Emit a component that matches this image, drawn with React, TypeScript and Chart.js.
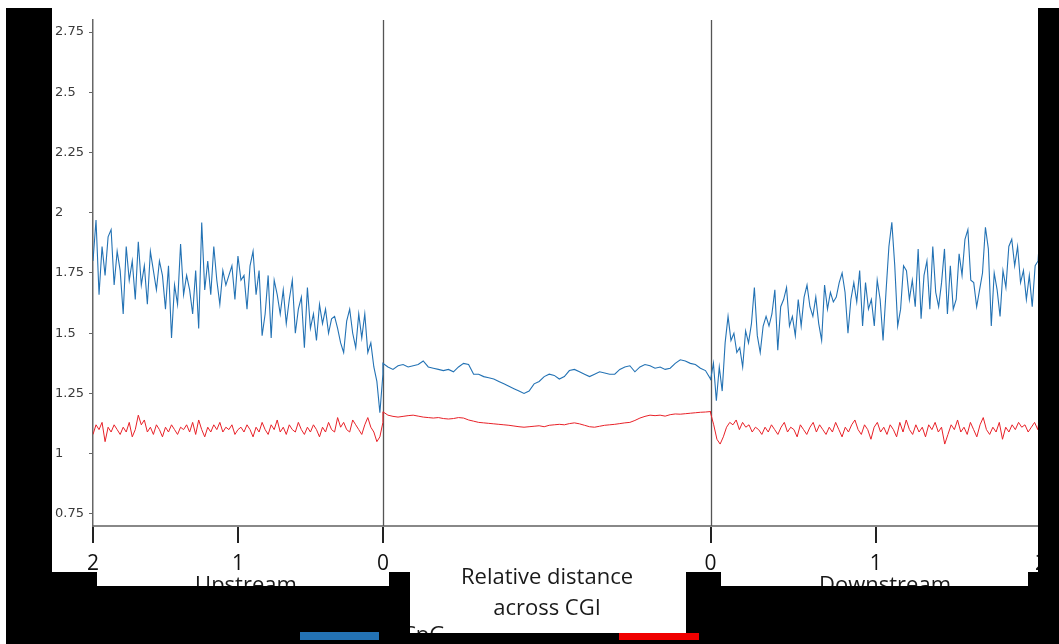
import React, { useEffect, useRef } from "react";
import { Chart, registerables } from "chart.js";

Chart.register(...registerables);

// Axis layout: upstream (2 kb), CGI body (relative), downstream (2 kb) in axis units
const SEGMENTS = [2, 2.26, 2.28];
const X_TICK_POS = [0, 1, 2, 4.26, 5.4, 6.54];
const X_TICK_LABELS = ["2", "1", "0", "0", "1", "2"];
const Y_TICKS = [0.75, 1, 1.25, 1.5, 1.75, 2, 2.25, 2.5, 2.75];
const Y_MIN = 0.7;
const Y_MAX = 2.8;

const SERIES_NAMES = ["CpG", "GpC"];

const CPG_UP = [
  1.8, 1.97, 1.66, 1.86, 1.74, 1.9, 1.93, 1.7, 1.84, 1.76,
  1.58, 1.86, 1.72, 1.8, 1.64, 1.88, 1.7, 1.78, 1.62, 1.84,
  1.76, 1.68, 1.8, 1.74, 1.6, 1.78, 1.48, 1.7, 1.62, 1.87,
  1.66, 1.74, 1.68, 1.58, 1.76, 1.52, 1.96, 1.68, 1.8, 1.66,
  1.86, 1.72, 1.62, 1.76, 1.7, 1.74, 1.78, 1.64, 1.82, 1.72,
  1.74, 1.6, 1.78, 1.84, 1.66, 1.76, 1.49, 1.58, 1.74, 1.48,
  1.72, 1.66, 1.58, 1.68, 1.54, 1.64, 1.72, 1.5, 1.6, 1.65,
  1.44, 1.69, 1.52, 1.58, 1.47, 1.62, 1.54, 1.6, 1.5, 1.56,
  1.57, 1.52, 1.46, 1.42, 1.55, 1.6, 1.5, 1.44, 1.58, 1.48,
  1.58, 1.42, 1.46, 1.36, 1.3, 1.17, 1.33
];
const CPG_BODY = [
  1.375, 1.36, 1.35, 1.365, 1.37, 1.36, 1.365, 1.37, 1.385, 1.36,
  1.355, 1.35, 1.345, 1.35, 1.34, 1.36, 1.375, 1.37, 1.33, 1.33,
  1.32, 1.315, 1.31, 1.3, 1.29, 1.28, 1.27, 1.26, 1.25, 1.26,
  1.29, 1.3, 1.32, 1.33, 1.325, 1.31, 1.32, 1.345, 1.35, 1.34,
  1.33, 1.32, 1.33, 1.34, 1.335, 1.33, 1.33, 1.35, 1.36, 1.365,
  1.34, 1.36, 1.37, 1.365, 1.355, 1.36, 1.35, 1.355, 1.375, 1.39,
  1.385, 1.375, 1.37, 1.355, 1.345, 1.31
];
const CPG_DOWN = [
  1.305, 1.376, 1.22, 1.36, 1.26, 1.46, 1.57, 1.47, 1.5, 1.42,
  1.44, 1.36, 1.51, 1.46, 1.54, 1.69, 1.49, 1.42, 1.53, 1.57,
  1.53, 1.58, 1.68, 1.43, 1.61, 1.64, 1.69, 1.53, 1.57, 1.49,
  1.64, 1.53, 1.65, 1.7, 1.61, 1.57, 1.65, 1.54, 1.47, 1.7,
  1.6, 1.67, 1.63, 1.65, 1.71, 1.75, 1.67, 1.5, 1.64, 1.71,
  1.63, 1.76, 1.53, 1.71, 1.6, 1.64, 1.53, 1.72, 1.64, 1.47,
  1.67, 1.86, 1.96, 1.78, 1.53, 1.6, 1.78, 1.76, 1.64, 1.72,
  1.61, 1.85, 1.56, 1.74, 1.8, 1.6, 1.86, 1.67, 1.61, 1.71,
  1.85, 1.58, 1.78, 1.6, 1.64, 1.83, 1.74, 1.89, 1.93, 1.72,
  1.71, 1.61, 1.68, 1.75, 1.94, 1.85, 1.53, 1.75, 1.68, 1.57,
  1.76, 1.69, 1.86, 1.89, 1.78, 1.86, 1.71, 1.76, 1.64, 1.74,
  1.61, 1.78, 1.8, 2.0
];

const GPC_UP = [
  1.08, 1.12, 1.1, 1.13, 1.05, 1.11, 1.09, 1.12, 1.1, 1.08,
  1.11, 1.09, 1.13, 1.07, 1.1, 1.16, 1.12, 1.14, 1.09, 1.11,
  1.08, 1.12, 1.1, 1.07, 1.11, 1.09, 1.12, 1.1, 1.08, 1.11,
  1.1, 1.12, 1.09, 1.13, 1.08, 1.14, 1.1, 1.07, 1.11, 1.09,
  1.12, 1.1, 1.13, 1.09, 1.11, 1.1, 1.12, 1.08, 1.1, 1.11,
  1.09, 1.12, 1.1, 1.07, 1.11, 1.09, 1.13, 1.1, 1.08, 1.12,
  1.1, 1.14, 1.09, 1.11, 1.08, 1.12, 1.1, 1.09, 1.13, 1.1,
  1.08, 1.11, 1.09, 1.12, 1.1, 1.07, 1.11, 1.09, 1.13, 1.1,
  1.09, 1.15, 1.11, 1.13, 1.1, 1.09, 1.14, 1.12, 1.1, 1.08,
  1.12, 1.15, 1.11, 1.09, 1.05, 1.07, 1.13
];
const GPC_BODY = [
  1.174, 1.16, 1.155, 1.152, 1.155, 1.158, 1.16, 1.156, 1.152, 1.15,
  1.148, 1.15, 1.146, 1.144, 1.146, 1.15, 1.148, 1.14, 1.135, 1.13,
  1.128, 1.126, 1.124, 1.122, 1.12, 1.118, 1.115, 1.112, 1.11, 1.112,
  1.114, 1.116, 1.112, 1.118, 1.12, 1.122, 1.12, 1.125, 1.128, 1.124,
  1.118, 1.112, 1.11, 1.114, 1.118, 1.12, 1.122, 1.125, 1.128, 1.13,
  1.138, 1.148, 1.155, 1.16, 1.158, 1.16, 1.156, 1.162, 1.165, 1.164,
  1.166, 1.168, 1.17, 1.172, 1.173, 1.175
];
const GPC_DOWN = [
  1.17, 1.12, 1.06, 1.04, 1.07, 1.11, 1.13, 1.12, 1.14, 1.1,
  1.13, 1.11, 1.12, 1.09, 1.11, 1.1, 1.08, 1.11, 1.09, 1.12,
  1.1, 1.08, 1.11, 1.13, 1.09, 1.11, 1.1, 1.07, 1.12, 1.1,
  1.08, 1.11, 1.13, 1.09, 1.12, 1.1, 1.08, 1.11, 1.09, 1.13,
  1.1, 1.07, 1.11, 1.09, 1.12, 1.14, 1.1, 1.08, 1.12, 1.1,
  1.06, 1.11, 1.13, 1.09, 1.11, 1.08, 1.12, 1.1, 1.07, 1.13,
  1.09, 1.14, 1.1, 1.08, 1.12, 1.09, 1.11, 1.07, 1.12, 1.1,
  1.13, 1.09, 1.11, 1.04, 1.08, 1.12, 1.1, 1.14, 1.09, 1.11,
  1.08, 1.13, 1.1, 1.07, 1.12, 1.15, 1.1, 1.08, 1.11, 1.09,
  1.13, 1.06, 1.11, 1.09, 1.12, 1.1, 1.13, 1.11, 1.12, 1.09,
  1.11, 1.13, 1.1, 1.19
];

const BLUE = "#2372b4";
const RED = "#e82128";

function toPoints(up: number[], body: number[], down: number[]) {
  const pts: { x: number; y: number }[] = [];
  const [u, b, d] = SEGMENTS;
  up.forEach((v, i) => pts.push({ x: (u * i) / (up.length - 1), y: v }));
  body.forEach((v, i) => pts.push({ x: u + (b * i) / (body.length - 1), y: v }));
  down.forEach((v, i) => pts.push({ x: u + b + (d * i) / (down.length - 1), y: v }));
  return pts;
}

const overlayPlugin = {
  id: "overlay",
  beforeDatasetsDraw(chart: any) {
    const { ctx, chartArea, scales } = chart;
    ctx.save();
    ctx.strokeStyle = "#555";
    ctx.lineWidth = 1.3;
    [X_TICK_POS[2], X_TICK_POS[3]].forEach((v) => {
      const x = Math.round(scales.x.getPixelForValue(v)) + 0.5;
      ctx.beginPath();
      ctx.moveTo(x, chartArea.top);
      ctx.lineTo(x, chartArea.bottom);
      ctx.stroke();
    });
    ctx.restore();
  },
  afterDraw(chart: any) {
    const { ctx } = chart;
    ctx.save();
    ctx.fillStyle = "#1a1a1a";
    ctx.textAlign = "center";
    ctx.textBaseline = "alphabetic";
    ctx.font = "22px 'Open Sans'";
    ctx.fillText("Upstream", 246, 592);
    ctx.fillText("Downstream", 885, 592);
    ctx.fillText("Relative distance", 547, 584);
    ctx.fillText("across CGI", 547, 615);
    ctx.textAlign = "left";
    ctx.fillText(SERIES_NAMES[0], 402, 642);
    ctx.fillText(SERIES_NAMES[1], 722, 642);
    // black masks present in the reference image
    ctx.fillStyle = "#000";
    const masks = [
      [6, 8, 46, 636],
      [1038, 8, 21, 636],
      [52, 572, 45, 72],
      [97, 586, 292, 58],
      [389, 572, 21, 72],
      [410, 633, 276, 11],
      [686, 572, 35, 72],
      [721, 586, 307, 58],
      [1028, 572, 10, 72],
    ];
    masks.forEach(([x, y, w, h]) => ctx.fillRect(x, y, w, h));
    // legend swatches
    ctx.fillStyle = BLUE;
    ctx.fillRect(300, 632, 79, 8);
    ctx.fillStyle = "#f00000";
    ctx.fillRect(619, 633, 80, 7);
    ctx.restore();
  },
};

export default function App() {
  const ref = useRef<HTMLCanvasElement | null>(null);
  useEffect(() => {
    if (!ref.current) return;
    const total = SEGMENTS[0] + SEGMENTS[1] + SEGMENTS[2];
    const chart = new Chart(ref.current, {
      type: "line",
      data: {
        datasets: [
          {
            label: SERIES_NAMES[0],
            data: toPoints(CPG_UP, CPG_BODY, CPG_DOWN),
            borderColor: BLUE,
            borderWidth: 1.1,
            pointRadius: 0,
            tension: 0,
          },
          {
            label: SERIES_NAMES[1],
            data: toPoints(GPC_UP, GPC_BODY, GPC_DOWN),
            borderColor: RED,
            borderWidth: 1,
            pointRadius: 0,
            tension: 0,
          },
        ],
      },
      options: {
        animation: false,
        responsive: false,
        layout: { padding: { left: 55, right: 18, top: 20, bottom: 0 } },
        plugins: { legend: { display: false }, tooltip: { enabled: false } },
        scales: {
          x: {
            type: "linear",
            min: 0,
            max: total,
            afterBuildTicks: (s: any) => {
              s.ticks = X_TICK_POS.map((v) => ({ value: v }));
            },
            afterFit: (s: any) => {
              s.height = 118;
            },
            ticks: {
              callback: (_v: any, i: number) => X_TICK_LABELS[i],
              font: { family: "'Open Sans'", size: 21 },
              color: "#111",
              padding: 8,
              maxRotation: 0,
              autoSkip: false,
            },
            grid: { drawOnChartArea: false, tickLength: 17, color: "#222", lineWidth: 2 },
            border: { color: "#888", width: 2 },
          },
          y: {
            min: Y_MIN,
            max: Y_MAX,
            afterBuildTicks: (s: any) => {
              s.ticks = Y_TICKS.map((v) => ({ value: v }));
            },
            afterFit: (s: any) => {
              s.width = 38;
            },
            ticks: {
              crossAlign: "far",
              font: { family: "'DejaVu Sans'", size: 13 },
              color: "#3a3a3a",
              callback: (v: any) => String(v),
            },
            grid: { drawOnChartArea: false, tickLength: 4, color: "#666" },
            border: { color: "#666", width: 1.5 },
          },
        },
      },
      plugins: [overlayPlugin],
    });
    return () => chart.destroy();
  }, []);
  return (
    <div style={{ position: "fixed", left: 0, top: 0, width: 1059, height: 644, background: "#fff" }}>
      <canvas ref={ref} width={1059} height={644} style={{ display: "block" }} />
    </div>
  );
}
